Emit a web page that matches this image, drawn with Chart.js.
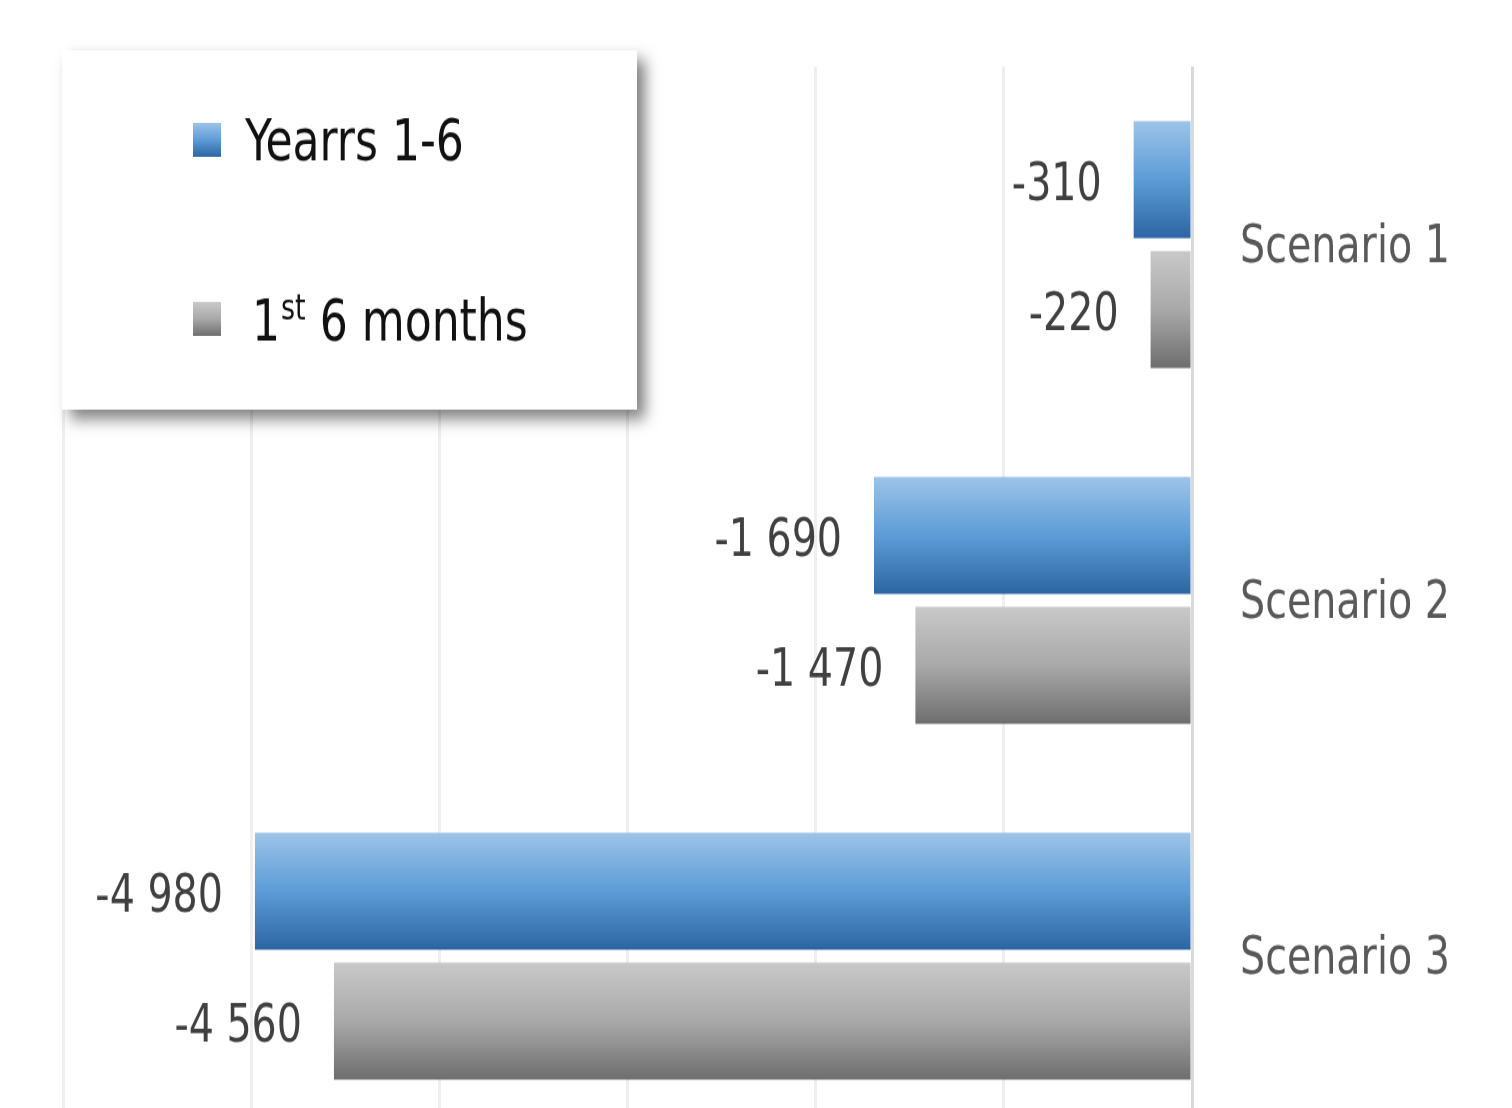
<!DOCTYPE html>
<html lang="en">
<head>
  <meta charset="UTF-8" />
  <title>Scenarios</title>
  <script src="https://cdn.jsdelivr.net/npm/chart.js"></script>
  <style>
    html, body { margin: 0; padding: 0; background: #fff; overflow: hidden; }
    #wrap { width: 1512px; height: 1108px; overflow: hidden; }
    canvas { display: block; }
  </style>
</head>
<body>
  <!-- bitmap is drawn 1512x969 and stretched to 1134 tall, giving the tall narrow lettering of the original -->
  <div id="wrap"><canvas id="chart" width="1512" height="969" style="width:1512px;height:1134px"></canvas></div>

  <script>
    // chart data
    const scenarios = ['Scenario 1', 'Scenario 2', 'Scenario 3'];
    const years16 = [-310, -1690, -4980];
    const first6Months = [-220, -1470, -4560];
    const seriesNames = ['Yearrs 1-6', '1st 6 months'];

    const FONT = "'DejaVu Sans Condensed', 'Liberation Sans Narrow', sans-serif";

    function fmt(v) {
      const s = String(Math.abs(v)).replace(/\B(?=(\d{3})+(?!\d))/g, ' ');
      return (v < 0 ? '-' : '') + s;
    }

    function blueGrad(ctx, top, bottom) {
      const g = ctx.createLinearGradient(0, top, 0, bottom);
      g.addColorStop(0, '#9dc4e8');
      g.addColorStop(0.5, '#5d9cd6');
      g.addColorStop(1, '#2c66a2');
      return g;
    }
    function grayGrad(ctx, top, bottom) {
      const g = ctx.createLinearGradient(0, top, 0, bottom);
      g.addColorStop(0, '#c9c9c9');
      g.addColorStop(0.5, '#a9a9a9');
      g.addColorStop(1, '#6e6e6e');
      return g;
    }

    // per-bar vertical gradients (colours are scriptable so every bar keeps its own options object)
    const barGradients = {
      id: 'barGradients',
      beforeDatasetsDraw(chart) {
        const ctx = chart.ctx;
        chart.data.datasets.forEach((ds, i) => {
          chart.getDatasetMeta(i).data.forEach(el => {
            const top = el.y - el.height / 2, bottom = el.y + el.height / 2;
            el.options.backgroundColor = i === 0 ? blueGrad(ctx, top, bottom) : grayGrad(ctx, top, bottom);
          });
        });
      }
    };

    // value labels left of each bar
    const valueLabels = {
      id: 'valueLabels',
      afterDatasetsDraw(chart) {
        const ctx = chart.ctx;
        ctx.save();
        ctx.font = '44px ' + FONT;
        ctx.fillStyle = '#404040';
        ctx.textAlign = 'right';
        ctx.textBaseline = 'middle';
        chart.data.datasets.forEach((ds, i) => {
          chart.getDatasetMeta(i).data.forEach((el, j) => {
            ctx.fillText(fmt(ds.data[j]), el.x - 32, el.y + 6);
          });
        });
        ctx.restore();
      }
    };

    // boxed legend with shadow, top left
    const boxLegend = {
      id: 'boxLegend',
      afterDraw(chart) {
        const ctx = chart.ctx;
        ctx.save();
        ctx.shadowColor = 'rgba(0,0,0,0.5)';
        ctx.shadowBlur = 13;
        ctx.shadowOffsetX = 8;
        ctx.shadowOffsetY = 8;
        ctx.fillStyle = '#fff';
        ctx.fillRect(62, 43, 575, 307);
        ctx.restore();

        ctx.save();
        ctx.fillStyle = blueGrad(ctx, 105, 134);
        ctx.fillRect(193, 105, 28, 29);
        ctx.fillStyle = grayGrad(ctx, 258, 287);
        ctx.fillRect(193, 258, 28, 29);

        ctx.fillStyle = '#111';
        ctx.textBaseline = 'alphabetic';
        ctx.font = '49px ' + FONT;
        ctx.fillText(seriesNames[0], 245, 137);

        // "1st 6 months" with superscript
        let x = 252;
        ctx.fillText('1', x, 291);
        x += ctx.measureText('1').width + 1;
        ctx.font = '30px ' + FONT;
        ctx.fillText('st', x, 273);
        x += ctx.measureText('st').width;
        ctx.font = '49px ' + FONT;
        ctx.fillText(' 6 months', x, 291);
        ctx.restore();
      }
    };

    new Chart(document.getElementById('chart'), {
      type: 'bar',
      data: {
        labels: scenarios,
        datasets: [
          { label: seriesNames[0], data: years16, backgroundColor: () => '#5d9cd6' },
          { label: seriesNames[1], data: first6Months, backgroundColor: () => '#a9a9a9' }
        ]
      },
      options: {
        indexAxis: 'y',
        responsive: false,
        animation: false,
        categoryPercentage: 0.73,
        barPercentage: 0.9,
        layout: { padding: { left: 63, top: 57, right: 0, bottom: 0 } },
        plugins: { legend: { display: false }, tooltip: { enabled: false } },
        scales: {
          x: {
            min: -6000,
            max: 0,
            ticks: { display: false, stepSize: 1000 },
            border: { display: false },
            grid: {
              drawTicks: false,
              lineWidth: 3,
              color: c => (c.tick && c.tick.value === 0) ? '#d9d9d9' : '#efefef'
            },
            afterFit: s => { s.height = 0; }
          },
          y: {
            position: 'right',
            border: { display: false },
            grid: { display: false, drawTicks: false },
            ticks: {
              padding: 48,
              labelOffset: 4,
              color: '#595959',
              font: { family: FONT, size: 44 }
            },
            // fixed axis width, and no extra room reserved for half label heights
            afterFit: s => { s.width = 320; s.paddingTop = 0; s.paddingBottom = 0; }
          }
        }
      },
      plugins: [barGradients, valueLabels, boxLegend]
    });
  </script>
</body>
</html>
